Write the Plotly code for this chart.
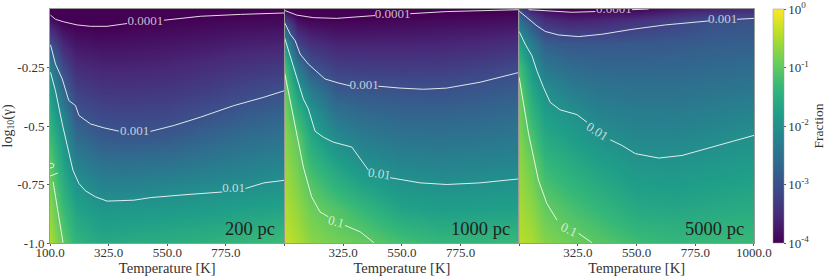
import plotly.graph_objects as go

temperature = [100, 150, 200, 300, 400, 550, 700, 850, 1000]
log_gamma = [0, -0.05, -0.15, -0.25, -0.35, -0.45, -0.55, -0.65, -0.75, -0.85, -1]
panel_names = ["200 pc", "1000 pc", "5000 pc"]

# log10(fraction); one list per temperature, running down log_gamma
z_200 = [
    [-4.2, -3.77, -3.0, -2.17, -1.79, -1.54, -1.28, -1.03, -0.87, -0.72, -0.5],
    [-4.3, -4.02, -3.56, -3.09, -2.65, -2.22, -1.9, -1.7, -1.5, -1.3, -1.0],
    [-4.3, -4.05, -3.77, -3.5, -3.22, -2.93, -2.6, -2.27, -1.95, -1.7, -1.4],
    [-4.3, -4.1, -3.82, -3.59, -3.36, -3.13, -2.86, -2.54, -2.22, -1.92, -1.6],
    [-4.25, -4.03, -3.81, -3.59, -3.37, -3.15, -2.9, -2.56, -2.23, -1.9, -1.55],
    [-4.2, -3.99, -3.77, -3.56, -3.34, -3.13, -2.86, -2.52, -2.17, -1.87, -1.5],
    [-4.15, -3.95, -3.72, -3.48, -3.25, -3.01, -2.71, -2.41, -2.1, -1.82, -1.45],
    [-4.1, -3.92, -3.65, -3.38, -3.12, -2.85, -2.58, -2.31, -2.05, -1.75, -1.35],
    [-4.05, -3.9, -3.6, -3.3, -3.0, -2.74, -2.47, -2.21, -1.96, -1.7, -1.25],
]
z_1000 = [
    [-4.05, -3.15, -1.8, -1.12, -0.9, -0.8, -0.72, -0.64, -0.55, -0.47, -0.35],
    [-4.2, -3.83, -3.17, -2.33, -1.77, -1.38, -1.0, -0.9, -0.78, -0.67, -0.5],
    [-4.3, -3.93, -3.44, -2.94, -2.31, -1.87, -1.6, -1.34, -1.08, -0.9, -0.7],
    [-4.3, -3.96, -3.6, -3.24, -2.86, -2.47, -2.08, -1.75, -1.44, -1.12, -0.85],
    [-4.25, -3.95, -3.6, -3.26, -2.92, -2.62, -2.32, -2.02, -1.7, -1.36, -0.95],
    [-4.2, -3.92, -3.6, -3.28, -2.97, -2.72, -2.46, -2.2, -1.95, -1.7, -1.2],
    [-4.1, -3.88, -3.58, -3.27, -2.98, -2.73, -2.49, -2.24, -2.0, -1.8, -1.35],
    [-4.08, -3.86, -3.53, -3.2, -2.91, -2.68, -2.45, -2.22, -1.98, -1.78, -1.35],
    [-4.03, -3.82, -3.45, -3.08, -2.83, -2.61, -2.39, -2.17, -1.95, -1.75, -1.3],
]
z_5000 = [
    [-3.2, -2.5, -1.72, -1.2, -0.95, -0.85, -0.76, -0.68, -0.6, -0.53, -0.42],
    [-3.7, -3.05, -2.33, -1.88, -1.63, -1.39, -1.15, -0.95, -0.82, -0.7, -0.52],
    [-3.9, -3.45, -2.79, -2.39, -2.0, -1.79, -1.58, -1.37, -1.17, -0.97, -0.75],
    [-4.05, -3.6, -2.9, -2.6, -2.29, -1.98, -1.78, -1.58, -1.38, -1.18, -0.9],
    [-4.0, -3.55, -2.9, -2.67, -2.44, -2.2, -1.97, -1.76, -1.56, -1.35, -1.04],
    [-3.95, -3.4, -2.88, -2.69, -2.5, -2.31, -2.13, -1.95, -1.78, -1.6, -1.25],
    [-3.75, -3.2, -2.86, -2.68, -2.5, -2.32, -2.14, -1.96, -1.8, -1.65, -1.35],
    [-3.6, -3.0, -2.81, -2.63, -2.44, -2.25, -2.07, -1.9, -1.75, -1.6, -1.3],
    [-3.5, -2.98, -2.78, -2.58, -2.38, -2.18, -1.98, -1.84, -1.7, -1.56, -1.3],
]

# contours: (temperature, log gamma); None = gap at an inline label
c200_t = [102,121,153,204,255,319,396,None,537,678,831,1000, None,
          102,121,147,172,198,211,255,307,364,None,486,575,678,805,921,1000, None,
          102,121,147,172,188,211,236,275,319,422,486,614,761,None,850,921,1000, None,
          100,115,113,100,None,100,130,None,112,150]
c200_g = [-.026,-.044,-.055,-.068,-.074,-.074,-.062,None,-.048,-.031,-.023,-.017, None,
          -.153,-.235,-.299,-.391,-.413,-.455,-.491,-.508,-.522,None,-.523,-.498,-.462,-.413,-.377,-.349, None,
          -.271,-.349,-.491,-.618,-.689,-.746,-.777,-.803,-.821,-.817,-.806,-.794,-.782,None,-.767,-.743,-.732, None,
          -.658,-.664,-.676,-.680,None,-.714,-.701,None,-.739,-.999]
c1000_t = [100,147,211,300,447,None,582,722,1000, None,
           100,122,141,160,191,217,255,306,351,None,460,543,633,722,850,1000, None,
           100,122,147,172,191,217,249,287,358,396,422,None,505,620,722,850,1000, None,
           100,134,172,204,236,268,None,332,390,443]
c1000_g = [-.006,-.026,-.037,-.040,-.028,None,-.020,-.011,-.003, None,
           -.058,-.108,-.136,-.193,-.235,-.261,-.299,-.316,-.328,None,-.330,-.338,-.343,-.338,-.313,-.271, None,
           -.122,-.200,-.285,-.384,-.426,-.522,-.548,-.569,-.590,-.647,-.689,None,-.721,-.743,-.750,-.743,-.726, None,
           -.271,-.462,-.675,-.803,-.867,-.888,None,-.925,-.952,-.999]
c5000_t = [136,213,302,392,None,532,596, None,
           100,136,168,200,251,328,417,532,660,827,None,935,1000, None,
           100,123,149,168,193,219,257,321,360,None,449,494,545,635,724,852,1000, None,
           100,136,174,206,245,None,328,379]
c5000_g = [-.003,-.009,-.014,-.011,None,-.003,0, None,
           -.009,-.044,-.072,-.096,-.111,-.118,-.108,-.087,-.068,-.051,None,-.044,-.040, None,
           -.096,-.150,-.200,-.264,-.335,-.399,-.431,-.451,-.484,None,-.559,-.583,-.618,-.637,-.626,-.586,-.540, None,
           -.292,-.533,-.732,-.831,-.902,None,-.959,-.999]

label_text = [["0.0001", "0.001", "0.01"],
              ["0.0001", "0.001", "0.01", "0.1"],
              ["0.0001", "0.001", "0.01", "0.1"]]
label_t = [[466, 425, 805], [515, 405, 463, 298], [463, 880, 400, 292]]
label_g = [[-.054, -.523, -.769], [-.023, -.328, -.704, -.909], [-.003, -.047, -.523, -.942]]
label_angle = [[0, 0, 0], [0, 0, 8, 15], [0, 0, 33, 25]]

x_ticks = [100, 325, 550, 775, 1000]
x_labels = [["100.0", "325.0", "550.0", "775.0", ""],
            ["", "325.0", "550.0", "775.0", ""],
            ["", "325.0", "550.0", "775.0", "1000.0"]]
y_ticks = [-0.25, -0.5, -0.75, -1.0]
y_labels = ["-0.25", "-0.5", "-0.75", "-1.0"]
cb_ticks = [0, -1, -2, -3, -4]
cb_labels = ["10<sup>0</sup>", "10<sup>-1</sup>", "10<sup>-2</sup>", "10<sup>-3</sup>", "10<sup>-4</sup>"]

FONT = "Liberation Serif"
W, H = 830, 279
INK = "#333333"
L, R, T, B = 49.5, 754.0, 8.5, 243.5
PW, PH = R - L, B - T
edges = [(49.5, 284.2), (284.2, 519), (519, 754)]

fig = go.Figure()
for i, (z, ct, cg) in enumerate(zip([z_200, z_1000, z_5000],
                                    [c200_t, c1000_t, c5000_t],
                                    [c200_g, c1000_g, c5000_g])):
    ax = "" if i == 0 else str(i + 1)
    fig.add_trace(go.Heatmap(
        x=temperature, y=log_gamma,
        z=[list(row) for row in zip(*z)],
        zsmooth="best", coloraxis="coloraxis",
        xaxis="x" + ax, yaxis="y" + ax, hoverinfo="skip"))
    fig.add_trace(go.Scatter(
        x=ct, y=cg, mode="lines", xaxis="x" + ax, yaxis="y" + ax,
        line=dict(color="rgba(255,255,255,0.85)", width=1),
        connectgaps=False, showlegend=False, hoverinfo="skip"))
    flat = [k for k, a in enumerate(label_angle[i]) if a == 0]
    fig.add_trace(go.Scatter(
        x=[label_t[i][k] for k in flat], y=[label_g[i][k] for k in flat],
        text=[label_text[i][k] for k in flat], mode="text",
        textfont=dict(family=FONT, size=13, color="rgba(255,255,255,0.72)"),
        cliponaxis=True, xaxis="x" + ax, yaxis="y" + ax,
        showlegend=False, hoverinfo="skip"))
    for k, a in enumerate(label_angle[i]):
        if a:
            fig.add_annotation(x=label_t[i][k], y=label_g[i][k], xref="x" + ax, yref="y" + ax,
                               text=label_text[i][k], textangle=a, showarrow=False,
                               font=dict(family=FONT, size=13, color="rgba(255,255,255,0.72)"))
    fig.add_annotation(x=0.968, y=0.01, xref=f"x{ax} domain", yref=f"y{ax} domain",
                       text=panel_names[i], showarrow=False, xanchor="right", yanchor="bottom",
                       font=dict(family=FONT, size=18.5, color="#222222"))
    x0, x1 = edges[i]
    fig.update_layout({
        "xaxis" + ax: dict(domain=[(x0 - L) / PW, (x1 - L) / PW], range=[100, 1000], tickmode="array",
                           tickvals=x_ticks, ticktext=x_labels[i], ticks="outside", ticklen=2,
                           tickcolor="#555555", showline=True, mirror=True, linecolor="#999999",
                           linewidth=1, showgrid=False, zeroline=False, anchor="y" + ax,
                           ticklabelstandoff=-5,
                           title=dict(text="Temperature [K]", standoff=0,
                                      font=dict(family=FONT, size=14.5, color=INK)),
                           tickfont=dict(family=FONT, size=13, color=INK)),
        "yaxis" + ax: dict(domain=[0, 1], range=[-1, 0], tickmode="array",
                           tickvals=y_ticks, ticktext=y_labels if i == 0 else [""] * 4,
                           ticks="outside" if i == 0 else "", ticklen=2, tickcolor="#555555",
                           showline=True, mirror=True, linecolor="#999999", linewidth=1,
                           showgrid=False, zeroline=False, anchor="x" + ax,
                           tickfont=dict(family=FONT, size=13, color=INK)),
    })

fig.update_layout(
    width=W, height=H, margin=dict(l=L, r=W - R, t=T, b=H - B, pad=0, autoexpand=False), autosize=False,
    paper_bgcolor="white", plot_bgcolor="white", showlegend=False,
    coloraxis=dict(
        colorscale="Viridis", cmin=-4, cmax=0,
        colorbar=dict(
            x=(773 - L) / PW, xanchor="left", xpad=0, ypad=0, y=0, yanchor="bottom",
            len=1, lenmode="fraction", thickness=11, thicknessmode="pixels",
            outlinewidth=0.5, outlinecolor="#999999",
            tickmode="array", tickvals=cb_ticks, ticktext=cb_labels, ticks="outside", ticklen=2,
            tickcolor="#555555", tickfont=dict(family=FONT, size=13, color=INK),
            title=dict(text="Fraction", side="right", font=dict(family=FONT, size=13.5, color=INK)))),
)
fig.add_annotation(x=-1 / PW, y=(B - 126) / PH, xref="paper", yref="paper",
                   xshift=-52, text="log<sub>10</sub>(γ)", textangle=-90, showarrow=False,
                   font=dict(family=FONT, size=14, color=INK))
fig.write_html("out.html", config={"displayModeBar": False},
               post_script="document.body.style.margin='0';")
